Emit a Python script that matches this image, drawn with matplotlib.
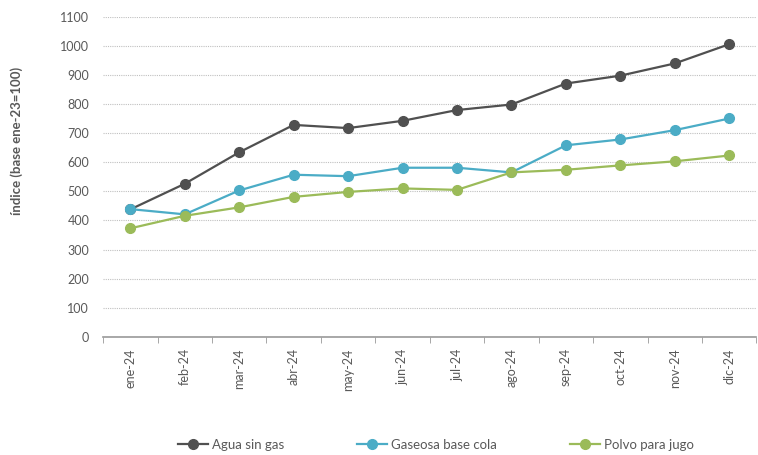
import matplotlib.pyplot as plt
import numpy as np

meses = ["ene-24", "feb-24", "mar-24", "abr-24", "may-24", "jun-24",
         "jul-24", "ago-24", "sep-24", "oct-24", "nov-24", "dic-24"]

agua = [438, 526, 634, 728, 717, 742, 779, 798, 870, 897, 939, 1005]
gaseosa = [439, 421, 503, 557, 552, 581, 581, 565, 658, 678, 710, 750]
polvo = [373, 416, 445, 481, 498, 510, 505, 565, 574, 589, 603, 623]

plt.rcParams['font.family'] = ['Lato', 'DejaVu Sans']

fig = plt.figure(figsize=(7.58, 4.55), dpi=100)
ax = fig.add_axes([0.136, 0.2593, 0.862, 0.7044])

x = np.arange(len(meses))
ax.plot(x, agua, color="#505050", lw=1.6, marker="o", ms=7, label="Agua sin gas")
ax.plot(x, gaseosa, color="#4BACC6", lw=1.6, marker="o", ms=7, label="Gaseosa base cola")
ax.plot(x, polvo, color="#9BBB59", lw=1.6, marker="o", ms=7, label="Polvo para jugo")

ax.set_xlim(-0.5, len(meses) - 0.5)
ax.set_ylim(0, 1100)
ax.set_yticks(range(0, 1101, 100))
ax.tick_params(axis="y", length=0, labelsize=9, labelcolor="#595959", pad=10)

ax.set_xticks(x)
ax.set_xticklabels(meses, rotation=90, fontsize=9, color="#595959")
ax.tick_params(axis="x", which="major", length=0, pad=8)
ax.set_xticks(np.arange(-0.5, len(meses), 1), minor=True)
ax.tick_params(axis="x", which="minor", length=4, color="#999999")

ax.grid(axis="y", linestyle=(0, (1, 1)), color="#c0c0c0", lw=0.8)
ax.set_axisbelow(True)
for s in ["top", "right", "left"]:
    ax.spines[s].set_visible(False)
ax.spines["bottom"].set_color("#999999")
ax.spines["bottom"].set_linewidth(1.2)

fig.text(0.022, 0.69, "índice (base ene-23=100)", rotation=90, ha="center", va="center",
         fontsize=9.5, fontweight="bold", color="#595959")

fig.legend(loc="center", bbox_to_anchor=(0.575, 0.022), ncol=3, frameon=False,
           fontsize=9.5, columnspacing=5.5, handlelength=2.3, handletextpad=0.3,
           labelcolor="#595959")

plt.savefig("out.png", dpi=100)
